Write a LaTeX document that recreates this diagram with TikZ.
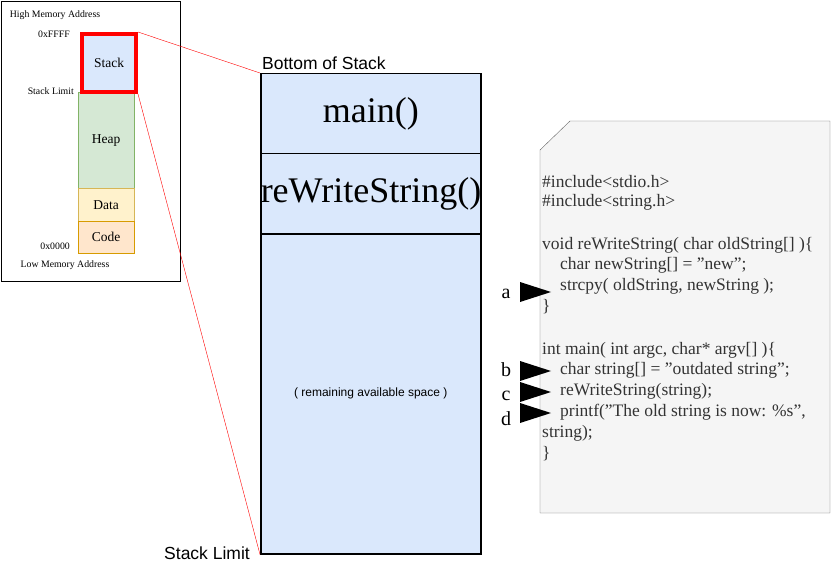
\documentclass[tikz,border=0pt]{standalone}
\usepackage{fontspec}
\setmainfont{Liberation Serif}[Ligatures=ResetAll]
\newfontfamily\sansf{Liberation Sans}
\newcommand{\dq}{\symbol{34}}
\begin{document}
\begin{tikzpicture}[x=1pt,y=-1pt,
  lbl/.style={font=\fontsize{9.8}{10}\selectfont, inner sep=0pt},
  seg/.style={draw, minimum width=56pt, anchor=north west, inner sep=0pt, font=\fontsize{13.5}{14}\selectfont},
  frame/.style={draw=black, line width=1.5pt, fill=sblue, minimum width=220pt, anchor=north west, inner sep=0pt},
  code/.style={anchor=west, inner sep=0pt, text=dgray, font=\fontsize{17.5}{18}\selectfont},
  tag/.style={font=\fontsize{20}{20}\selectfont, inner sep=0pt}]
\definecolor{sblue}{HTML}{DAE8FC}
\definecolor{sgreen}{HTML}{D5E8D4}\definecolor{bgreen}{HTML}{82B366}
\definecolor{syel}{HTML}{FFF2CC}\definecolor{byel}{HTML}{D6B656}
\definecolor{sora}{HTML}{FFE6CC}\definecolor{bora}{HTML}{D79B00}
\definecolor{dgray}{HTML}{333333}
\useasboundingbox (0,0) rectangle (832,564);
% left overview
\draw (1,1) rectangle (180,281);
\node[lbl] (hma) at (55,15) {High Memory Address};
\node[lbl, anchor=east] (ff) at (70,34) {0xFFFF};
\node[lbl, anchor=east] (sl) at (74,91) {Stack Limit};
\node[lbl, anchor=east] (zz) at (70,246) {0x0000};
\node[lbl] (lma) at (65,265) {Low Memory Address};
\node[seg, draw=bgreen, fill=sgreen, minimum height=96pt] (heap) at (78,92) {Heap};
\node[seg, draw=byel, fill=syel, minimum height=33pt] (data) at (78,188) {Data};
\node[seg, draw=bora, fill=sora, minimum height=32pt] (codeseg) at (78,221) {Code};
\node[seg, draw=red, line width=4pt, fill=sblue, minimum width=54pt, minimum height=58pt] (stk) at (80,32) {Stack};
% stack frames
\node[frame, minimum height=80pt, font=\fontsize{36}{38}\selectfont] (main) at (260,73) {main()};
\node[frame, minimum height=80pt, font=\fontsize{36}{38}\selectfont] (rw) at (260,153) {reWriteString()};
\node[frame, minimum height=320pt, font=\sansf\fontsize{12}{13}\selectfont] (rem) at (260,233) {( remaining available space )};
\node[anchor=south west, inner sep=0pt, font=\sansf\fontsize{17.5}{18}\selectfont] (bos) at (262,70) {Bottom of Stack};
\node[anchor=east, inner sep=0pt, font=\sansf\fontsize{17.5}{18}\selectfont] (slb) at (250,553) {Stack Limit};
\draw[red] (stk.north east) -- (main.north west);
\draw[red] (stk.south east) -- (rem.south west);
% code card
\draw[draw=gray!80!black, fill=gray!8] (540,150) -- (570,121) -- (830,121) -- (830,513) -- (540,513) -- cycle;
\node[code] at (542,182) {\#include<stdio.h>};
\node[code] at (542,202) {\#include<string.h>};
\node[code] at (542,245) {void reWriteString( char oldString[] )\{};
\node[code] at (560,265) {char newString[] = \dq new\dq;};
\node[code] at (560,286) {strcpy( oldString, newString );};
\node[code] at (542,307) {\}};
\node[code] at (542,350) {int main( int argc, char* argv[] )\{};
\node[code] at (560,370) {char string[] = \dq outdated string\dq;};
\node[code] at (560,391) {reWriteString(string);};
\node[code] at (560,412) {printf(\dq The old string is now: \%s\dq,};
\node[code] at (542,433) {string);};
\node[code] at (542,454) {\}};
% markers
\foreach \n/\y in {a/292,b/371,c/392,d/413}{
  \fill (520,\y-10) -- (551,\y) -- (520,\y+10) -- cycle;
}
\node[tag, anchor=base] (ta) at (506,298) {a};
\node[tag, anchor=base] (tb) at (506,376) {b};
\node[tag, anchor=base] (tc) at (506,400) {c};
\node[tag, anchor=base] (td) at (506,425) {d};
\end{tikzpicture}
\end{document}
